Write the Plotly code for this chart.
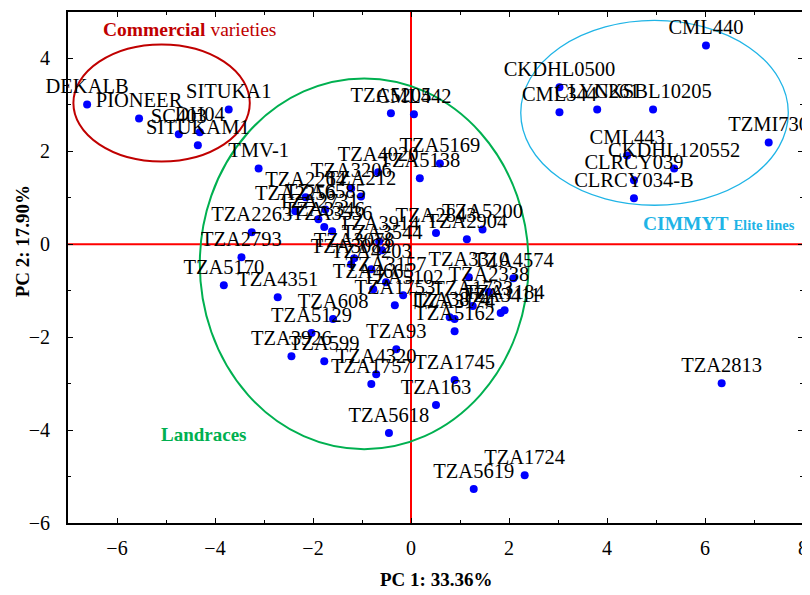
import plotly.graph_objects as go

# ---- data ----
names = [
    "DEKALB", "PIONEER", "SC403", "DH04", "SITUKA1", "SITUKAM1",
    "CML440", "CKDHL0500", "CML344", "CLYN261", "CKSBL10205", "TZMI730",
    "CML443", "CKDHL120552", "CLRCY039", "CLRCY034-B", "CML442",
    "TMV-1", "TZA5205", "TZA5169", "TZA5138", "TZA4020", "TZA3206", "TZA212",
    "TZA2264", "TZA2256", "TZA6585", "TZA2731", "TZA3346", "TZA3536",
    "TZA2263", "TZA2793", "TZA5170", "TZA4351", "TZA3914", "TZA3544",
    "TZA3078", "TZA3082", "TZA4203", "TZA3157", "TZA4665", "TZA5102",
    "TZA1753", "TZA2843", "TZA5200", "TZA2904", "TZA3310", "TZA4574",
    "TZA2338", "TZA1723", "TZA3411", "TZA1184", "TZA3874", "TZA3174",
    "TZA5162", "TZA608", "TZA5129", "TZA3926", "TZA599", "TZA93",
    "TZA4320", "TZA1757", "TZA1745", "TZA163", "TZA5618", "TZA5619",
    "TZA1724", "TZA2813",
]
pc1 = [
    -6.61, -5.55, -4.74, -4.31, -3.72, -4.35,
    6.02, 3.03, 3.03, 3.80, 4.94, 7.30,
    4.41, 5.37, 4.55, 4.55, 0.06,
    -3.11, -0.41, 0.59, 0.18, -0.67, -1.22, -1.02,
    -2.15, -2.36, -1.75, -1.89, -1.77, -1.61,
    -3.25, -3.46, -3.82, -2.72, -0.65, -0.59,
    -1.16, -1.22, -0.81, -0.51, -0.77, -0.16,
    -0.33, 0.51, 1.46, 1.14, 1.18, 2.09,
    1.59, 1.26, 1.83, 1.91, 0.79, 0.89,
    0.89, -1.59, -2.03, -2.44, -1.77, -0.30,
    -0.71, -0.81, 0.89, 0.51, -0.45, 1.28,
    2.32, 6.34,
]
pc2 = [
    3.01, 2.71, 2.37, 2.41, 2.90, 2.13,
    4.28, 3.38, 2.84, 2.90, 2.90, 2.19,
    1.91, 1.63, 1.38, 0.99, 2.80,
    1.63, 2.82, 1.74, 1.42, 1.55, 1.20, 1.03,
    1.01, 0.71, 0.75, 0.54, 0.37, 0.28,
    0.26, -0.28, -0.88, -1.14, 0.06, -0.13,
    -0.30, -0.43, -0.54, -0.82, -0.97, -1.10,
    -1.31, 0.24, 0.32, 0.11, -0.71, -0.73,
    -1.03, -1.33, -1.48, -1.42, -1.57, -1.61,
    -1.87, -1.61, -1.91, -2.41, -2.52, -2.26,
    -2.80, -3.01, -2.92, -3.46, -4.06, -5.27,
    -4.97, -2.99,
]

# group ellipses (x0, x1, y0, y1 in PC units)
ellipse_names = ["Commercial", "Landraces", "CIMMYT"]
ellipse_x0 = [-6.89, -4.31, 2.24]
ellipse_x1 = [-3.29, 2.40, 7.70]
ellipse_y0 = [1.78, -4.41, 0.84]
ellipse_y1 = [4.30, 3.57, 4.82]
ellipse_colors = ["#c00000", "#00b050", "#1fb4e6"]
ellipse_widths = [2, 2, 1.3]

x_ticks = [-6, -4, -2, 0, 2, 4, 6, 8]
y_ticks = [-6, -4, -2, 0, 2, 4]

SERIF = "Liberation Serif, Times New Roman, serif"

fig = go.Figure()
fig.add_trace(go.Scatter(
    x=pc1, y=pc2, text=names, mode="markers+text",
    textposition="top center",
    textfont=dict(family=SERIF, size=20.5, color="black"),
    marker=dict(color="#0000ff", size=8),
    cliponaxis=False, showlegend=False,
))

shapes = []
# reference lines through origin
shapes.append(dict(type="line", xref="x", yref="paper", x0=0, x1=0, y0=0, y1=1,
                   line=dict(color="red", width=2), layer="below"))
shapes.append(dict(type="line", xref="paper", yref="y", x0=0, x1=1, y0=0, y1=0,
                   line=dict(color="red", width=2), layer="below"))
for i in range(len(ellipse_names)):
    shapes.append(dict(type="circle", xref="x", yref="y",
                       x0=ellipse_x0[i], x1=ellipse_x1[i],
                       y0=ellipse_y0[i], y1=ellipse_y1[i],
                       line=dict(color=ellipse_colors[i], width=ellipse_widths[i]),
                       layer="below"))

annotations = [
    dict(x=-4.53, y=4.62, xref="x", yref="y", showarrow=False,
         text="<b>Commercial</b> varieties",
         font=dict(family=SERIF, size=19.5, color="#c00000")),
    dict(x=-4.23, y=-4.09, xref="x", yref="y", showarrow=False,
         text="<b>Landraces</b>",
         font=dict(family=SERIF, size=19, color="#00b050")),
    dict(x=6.28, y=0.45, xref="x", yref="y", showarrow=False,
         text="<b>CIMMYT</b> <b><span style='font-size:14.5px'>Elite lines</span></b>",
         font=dict(family=SERIF, size=19.5, color="#1fb4e6")),
    dict(x=0.5, y=-0.111, xref="paper", yref="paper", showarrow=False,
         xanchor="center", yanchor="middle",
         text="<b>PC 1: 33.36%</b>", font=dict(family=SERIF, size=19, color="black")),
    dict(x=-0.062, y=0.552, xref="paper", yref="paper", showarrow=False,
         xanchor="center", yanchor="middle", textangle=-90,
         text="<b>PC 2: 17.90%</b>", font=dict(family=SERIF, size=19, color="black")),
]

# page body keeps an 8px margin, so the figure is sized to fit the 810x595 window
fig.update_layout(
    width=802, height=587,
    margin=dict(l=60, r=3, t=2, b=72),
    paper_bgcolor="white", plot_bgcolor="white",
    shapes=shapes, annotations=annotations,
    xaxis=dict(range=[-7, 8], tickvals=x_ticks, ticks="inside", ticklen=5,
               minor=dict(dtick=1, ticks="inside", ticklen=3, tickcolor="black"),
               showline=True, linecolor="black", linewidth=2, mirror="ticks",
               showgrid=False, zeroline=False, tickcolor="black",
               ticklabelstandoff=6, ticklabeloverflow="allow",
               tickfont=dict(family=SERIF, size=20, color="black")),
    yaxis=dict(range=[-6, 5], tickvals=y_ticks, ticks="inside", ticklen=5,
               minor=dict(dtick=1, ticks="inside", ticklen=3, tickcolor="black"),
               showline=True, linecolor="black", linewidth=2, mirror="ticks",
               showgrid=False, zeroline=False, tickcolor="black",
               ticklabelstandoff=12, ticklabeloverflow="allow",
               tickfont=dict(family=SERIF, size=20, color="black")),
)

fig.write_html("out.html")
